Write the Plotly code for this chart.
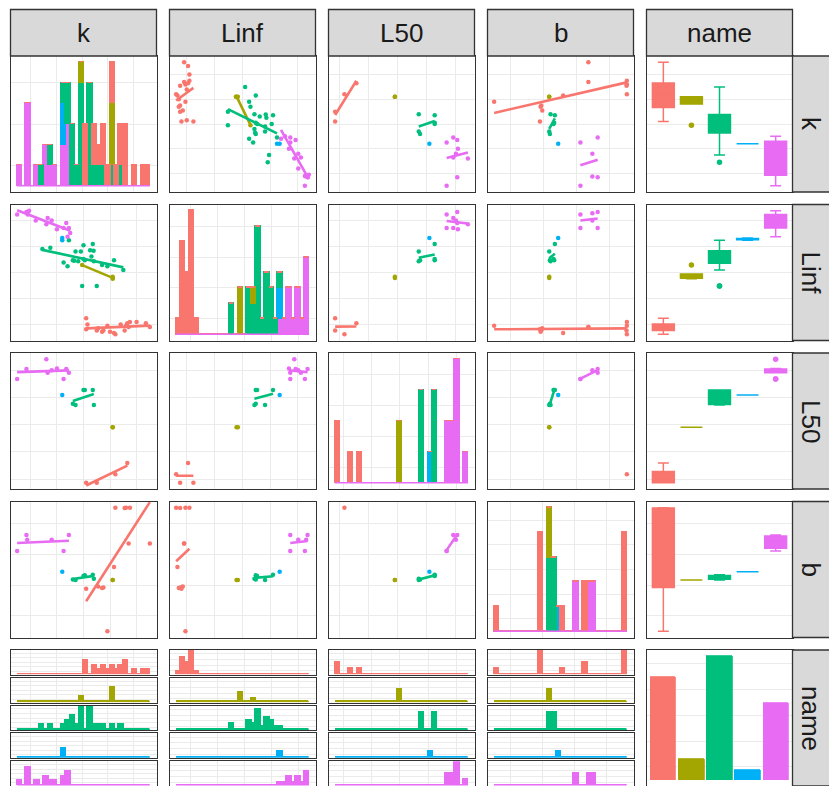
import numpy as np
import plotly.graph_objects as go

NA = None

# ---------------------------------------------------------------- data
groups = ["A", "B", "C", "D", "E"]
group_colors = ["#F8766D", "#A3A500", "#00BF7D", "#00B0F6", "#E76BF3"]

# group A
k_A = [0.41, 0.41, 0.415, 0.45, 0.455, 0.47, 0.475, 0.49, 0.50, 0.515,
       0.52, 0.54, 0.555, 0.56, 0.565, 0.57, 0.575, 0.60, 0.635, 0.65]
Linf_A = [25.2, 21.6, 23.2, 21.2, 22.0, 20.8, 21.2, 22.8, 20.8, 20.4,
          20.0, 23.2, 21.2, 22.8, 23.6, 22.4, 24.0, 24.0, 23.6, 22.4]
L50_A = [10.0, NA, NA, 10.0, NA, NA, NA, NA, NA, NA,
         11.4, NA, NA, NA, 13.2, NA, NA, NA, NA, NA]
b_A = [NA, 2.988, NA, NA, 2.995, 2.99, 2.992, 2.85, NA, 3.058,
       3.25, NA, 3.249, 3.25, NA, 3.134, 3.25, NA, NA, 3.134]

# group B
k_B = [0.395, 0.51, 0.51, 0.51]
Linf_B = [42.4, 38.0, 38.2, 38.6]
L50_B = [NA, NA, 19.0, 19.0]
b_B = [NA, NA, 3.016, 3.016]

# group C
k_C = [0.245, 0.275, 0.325, 0.34, 0.36, 0.365, 0.37, 0.38, 0.39, 0.395, 0.40, 0.40,
       0.405, 0.425, 0.435, 0.438, 0.439, 0.45, 0.47, 0.49, 0.515, 0.55, 0.43, 0.345]
Linf_C = [47.6, 48.0, 43.2, 42.0, 44.0, 43.8, 46.8, 43.6, 46.8, 35.6, 44.4, 48.8,
          44.0, 47.2, 49.2, 47.0, 43.6, 35.6, 42.4, 42.0, 44.0, 40.8, 45.2, 50.4]
L50_C = [NA, NA, NA, NA, 22.8, NA, 22.6, NA, NA, NA, 25.0, NA,
         25.0, NA, 25.0, NA, 22.6, NA, NA, NA, NA, NA, NA, NA]
b_C = [NA, NA, NA, NA, 3.018, NA, 3.016, NA, NA, NA, 3.029, NA,
       3.031, NA, 3.033, NA, 3.020, NA, NA, NA, NA, NA, NA, NA]

# group D
k_D = [0.32, 0.32]
Linf_D = [51.2, 50.4]
L50_D = [24.2, NA]
b_D = [3.043, NA]

# group E
k_E = [0.15, 0.185, 0.188, 0.19, 0.195, 0.22, 0.26, 0.265, 0.28, 0.30,
       0.325, 0.335, 0.34, 0.345, 0.35]
Linf_E = [58.8, 59.6, 59.2, 58.8, 60.0, 56.8, 55.6, 57.6, 56.8, 54.0,
          54.4, 56.0, 51.6, 54.4, 52.8]
L50_E = [26.8, 28.4, NA, NA, NA, NA, 30.0, 27.8, 28.2, 28.5,
         26.8, 28.4, NA, 27.8, NA]
b_E = [3.11, 3.162, 3.146, NA, NA, NA, NA, NA, 3.146, NA,
       3.11, NA, NA, 3.162, NA]

variables = ["k", "Linf", "L50", "b"]
raw = {
    "k": [k_A, k_B, k_C, k_D, k_E],
    "Linf": [Linf_A, Linf_B, Linf_C, Linf_D, Linf_E],
    "L50": [L50_A, L50_B, L50_C, L50_D, L50_E],
    "b": [b_A, b_B, b_C, b_D, b_E],
}
# background grid positions (first line, spacing) for each variable
grid_lines = {"k": (0.2, 0.1), "Linf": (23.1, 8.4), "L50": (10.6, 4.4), "b": (2.9, 0.0992)}

# ---------------------------------------------------------------- helpers
def to_arr(v):
    return np.array([np.nan if x is None else x for x in v], dtype=float)

vals = {v: [to_arr(lst) for lst in raw[v]] for v in variables}


def gg_edges(lo, hi, bins=30):
    """30 bins of width range/29, edges aligned on width/2 (ggplot2 style)."""
    w = (hi - lo) / (bins - 1)
    boundary = w / 2
    shift = np.floor((lo - boundary) / w)
    origin = boundary + shift * w
    max_x = hi + (1 - 1e-8) * w
    n = int(np.floor((max_x - origin) / w + 1e-9)) + 1
    e = origin + w * np.arange(n)
    if e[0] > lo:
        e = np.insert(e, 0, e[0] - w)
    if e[-1] < hi:
        e = np.append(e, e[-1] + w)
    return e, w


rng, edges, hist_rng = {}, {}, {}
for v in variables:
    allv = np.concatenate([a[np.isfinite(a)] for a in vals[v]])
    lo, hi = allv.min(), allv.max()
    R = hi - lo
    rng[v] = [lo - 0.05 * R, hi + 0.05 * R]
    e, w = gg_edges(lo, hi)
    edges[v] = e
    span = e[-1] - e[0]
    hist_rng[v] = [e[0] - 0.05 * span, e[-1] + 0.05 * span]


def counts_of(a, e):
    a = a[np.isfinite(a)]
    c, _ = np.histogram(a, bins=e)
    return c


def count_grid(maxc):
    if maxc <= 5:
        step = 1
    elif maxc <= 10:
        step = 2
    elif maxc <= 25:
        step = 5
    else:
        step = 10
    return step / 2, step


def box_stats(y):
    q1, med, q3 = np.percentile(y, [25, 50, 75])
    iqr = q3 - q1
    lo_f, hi_f = q1 - 1.5 * iqr, q3 + 1.5 * iqr
    inside = y[(y >= lo_f) & (y <= hi_f)]
    out = y[(y < lo_f) | (y > hi_f)]
    return q1, med, q3, inside.min(), inside.max(), out


W, H = 829, 786
COL_X = [10.5, 169.5, 328.5, 487.5, 646.5]
ROW_Y = [56, 204.5, 353, 501.5, 650]
PW, PH = 146, 136
BORDER = "#333333"
GRID = "#EBEBEB"
STRIP = "#D9D9D9"
TEXT = "#1A1A1A"
FONT = "Liberation Sans, Arial, sans-serif"

axes_layout = {}
n_axes = [0]


def add_axes(px0, py0, pw, ph, xa, ya):
    n_axes[0] += 1
    s = "" if n_axes[0] == 1 else str(n_axes[0])
    base = dict(showticklabels=False, ticks="", showline=True, mirror=True,
                linecolor=BORDER, linewidth=1.4, zeroline=False,
                gridcolor=GRID, gridwidth=1)
    xd = [px0 / W, (px0 + pw) / W]
    yd = [max(0.0, 1 - (py0 + ph) / H), 1 - py0 / H]
    axes_layout["xaxis" + s] = {**base, **xa, "domain": xd, "anchor": "y" + s}
    axes_layout["yaxis" + s] = {**base, **ya, "domain": yd, "anchor": "x" + s}
    return "x" + s, "y" + s


def cont_axis(v, r):
    t0, dt = grid_lines[v]
    return dict(range=r, tickmode="linear", tick0=t0, dtick=dt, showgrid=True)


def count_axis(maxc):
    t0, dt = count_grid(maxc)
    return dict(range=[-0.05 * maxc, 1.05 * maxc], tickmode="linear",
                tick0=t0, dtick=dt, showgrid=True)


fig = go.Figure()
line_traces = []
BAR_EDGE = 1.4

# ---------------------------------------------------------------- 4 x 4 block
for r, yv in enumerate(variables):
    for c, xv in enumerate(variables):
        px0, py0 = COL_X[c], ROW_Y[r]
        if r == c:
            e = edges[xv]
            w = e[1] - e[0]
            centers = (e[:-1] + e[1:]) / 2
            cnts = [counts_of(a, e) for a in vals[xv]]
            maxc = np.max(np.sum(cnts, axis=0))
            xa, ya = add_axes(px0, py0, PW, PH, cont_axis(xv, hist_rng[xv]), count_axis(maxc))
            for gi in reversed(range(len(groups))):
                col = group_colors[gi]
                fig.add_trace(go.Bar(x=centers, y=cnts[gi], width=w, xaxis=xa, yaxis=ya,
                                     marker=dict(color=col, line=dict(color=col, width=BAR_EDGE)),
                                     showlegend=False, hoverinfo="skip"))
            fig.add_trace(go.Scatter(x=[e[0], e[-1]], y=[0, 0], mode="lines", xaxis=xa, yaxis=ya,
                                     line=dict(color=group_colors[-1], width=1.6),
                                     showlegend=False, hoverinfo="skip"))
        else:
            xa, ya = add_axes(px0, py0, PW, PH, cont_axis(xv, rng[xv]), cont_axis(yv, rng[yv]))
            for gi, g in enumerate(groups):
                x = vals[xv][gi]
                y = vals[yv][gi]
                ok = np.isfinite(x) & np.isfinite(y)
                x, y = x[ok], y[ok]
                col = group_colors[gi]
                fig.add_trace(go.Scatter(x=x, y=y, mode="markers", xaxis=xa, yaxis=ya,
                                         marker=dict(color=col, size=4.5, line=dict(width=0)),
                                         showlegend=False, hoverinfo="skip"))
                if len(np.unique(x)) >= 2:
                    slope, icpt = np.polyfit(x, y, 1)
                    xs = np.array([x.min(), x.max()])
                    line_traces.append(go.Scatter(x=xs, y=slope * xs + icpt, mode="lines",
                                                  xaxis=xa, yaxis=ya,
                                                  line=dict(color=col, width=2.6),
                                                  showlegend=False, hoverinfo="skip"))

for t in line_traces:
    fig.add_trace(t)

# ---------------------------------------------------------------- box plots by group
cat_axis = dict(type="category", categoryorder="array", categoryarray=groups,
                range=[-0.6, len(groups) - 0.4], showgrid=False)
for r, yv in enumerate(variables):
    xa, ya = add_axes(COL_X[4], ROW_Y[r], PW, PH, dict(cat_axis), cont_axis(yv, rng[yv]))
    for gi, g in enumerate(groups):
        y = vals[yv][gi]
        y = y[np.isfinite(y)]
        col = group_colors[gi]
        q1, med, q3, lf, uf, out = box_stats(y)
        fig.add_trace(go.Box(x=[g], q1=[q1], median=[med], q3=[q3],
                             lowerfence=[lf], upperfence=[uf],
                             xaxis=xa, yaxis=ya, width=0.78,
                             fillcolor=col, line=dict(color=col, width=1.5),
                             boxpoints=False, showlegend=False, hoverinfo="skip"))
        if len(out):
            fig.add_trace(go.Scatter(x=[g] * len(out), y=out, mode="markers", xaxis=xa, yaxis=ya,
                                     marker=dict(color=col, size=5.5, line=dict(width=0)),
                                     showlegend=False, hoverinfo="skip"))

# ---------------------------------------------------------------- histograms faceted by group
GAP = 3.0
SUB_H = (PH - 4 * GAP) / 5
for c, xv in enumerate(variables):
    e = edges[xv]
    w = e[1] - e[0]
    centers = (e[:-1] + e[1:]) / 2
    cnts = [counts_of(a, e) for a in vals[xv]]
    maxc = max(int(cc.max()) for cc in cnts)
    for gi, g in enumerate(groups):
        top = ROW_Y[4] + gi * (SUB_H + GAP)
        xa, ya = add_axes(COL_X[c], top, PW, SUB_H, cont_axis(xv, hist_rng[xv]), count_axis(maxc))
        col = group_colors[gi]
        fig.add_trace(go.Bar(x=centers, y=cnts[gi], width=w, xaxis=xa, yaxis=ya,
                             marker=dict(color=col, line=dict(color=col, width=BAR_EDGE)),
                             showlegend=False, hoverinfo="skip"))
        fig.add_trace(go.Scatter(x=[e[0], e[-1]], y=[0, 0], mode="lines", xaxis=xa, yaxis=ya,
                                 line=dict(color=col, width=1.4),
                                 showlegend=False, hoverinfo="skip"))

# ---------------------------------------------------------------- group counts
group_n = [len(vals["k"][gi]) for gi in range(len(groups))]
xa, ya = add_axes(COL_X[4], ROW_Y[4], PW, PH, dict(cat_axis), count_axis(max(group_n)))
fig.add_trace(go.Bar(x=groups, y=group_n, width=0.9, xaxis=xa, yaxis=ya,
                     marker=dict(color=group_colors, line=dict(color=group_colors, width=0.8)),
                     showlegend=False, hoverinfo="skip"))

# ---------------------------------------------------------------- strips
labels = variables + ["name"]
shapes, annotations = [], []
STRIP_TOP = 9.5
for c, lab in enumerate(labels):
    x0, x1 = COL_X[c] / W, (COL_X[c] + PW) / W
    shapes.append(dict(type="rect", xref="paper", yref="paper", x0=x0, x1=x1,
                       y0=1 - ROW_Y[0] / H, y1=1 - STRIP_TOP / H,
                       fillcolor=STRIP, line=dict(color=BORDER, width=1.3), layer="above"))
    annotations.append(dict(x=(x0 + x1) / 2, y=1 - (STRIP_TOP + ROW_Y[0]) / 2 / H,
                            xref="paper", yref="paper", text=lab, showarrow=False,
                            font=dict(family=FONT, size=26, color=TEXT),
                            xanchor="center", yanchor="middle"))
STRIP_X0 = COL_X[4] + PW
for r, lab in enumerate(labels):
    y_top = ROW_Y[r]
    y_bot = min(ROW_Y[r] + PH, H)
    shapes.append(dict(type="rect", xref="paper", yref="paper", x0=STRIP_X0 / W, x1=1.02,
                       y0=1 - y_bot / H, y1=1 - y_top / H,
                       fillcolor=STRIP, line=dict(color=BORDER, width=1.3), layer="above"))
    annotations.append(dict(x=811 / W, y=1 - (y_top + y_bot) / 2 / H,
                            xref="paper", yref="paper", text=lab, showarrow=False, textangle=90,
                            font=dict(family=FONT, size=26, color=TEXT),
                            xanchor="center", yanchor="middle"))

fig.update_layout(
    width=W, height=H, autosize=False,
    margin=dict(l=0, r=0, t=0, b=0),
    paper_bgcolor="white", plot_bgcolor="white",
    barmode="stack", bargap=0, boxmode="overlay",
    showlegend=False, hovermode=False,
    shapes=shapes, annotations=annotations,
    **axes_layout,
)

fig.write_html("out.html", config={"displayModeBar": False})
